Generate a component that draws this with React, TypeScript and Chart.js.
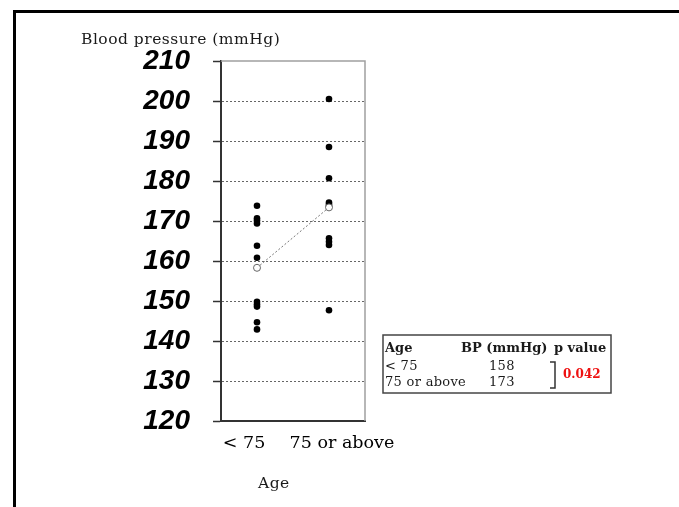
import React, { useEffect, useRef } from "react";
import { Chart, registerables } from "chart.js";

Chart.register(...registerables);

// ---- data ----
const ageGroups = ["< 75", "75 or above"];
const ageLabelPositions = [-0.18, 1.18];
const yMin = 120;
const yMax = 210;
const yStep = 10;
const bpUnder75 = [173.8, 170.7, 170.1, 169.4, 163.8, 160.8, 149.8, 149.2, 148.6, 144.7, 142.9];
const bp75OrAbove = [200.5, 188.5, 180.7, 174.6, 174.1, 173.6, 165.7, 164.8, 164, 147.7];
const meanBP = [158.3, 173.4];
const meanBPLabels = ["158", "173"];
const pValueText = "0.042";
const yTitle = "Blood pressure (mmHg)";
const xTitle = "Age";
const tableHeaders = ["Age", "BP (mmHg)", "p value"];

const SERIF = "'DejaVu Serif', serif";

const extrasPlugin = {
  id: "extras",
  beforeDatasetsDraw(chart: any) {
    const { ctx, chartArea: a } = chart;
    ctx.save();
    ctx.strokeStyle = "#a0a0a0";
    ctx.lineWidth = 1.5;
    ctx.beginPath();
    ctx.moveTo(a.left, a.top);
    ctx.lineTo(a.right, a.top);
    ctx.lineTo(a.right, a.bottom);
    ctx.stroke();
    ctx.restore();
  },
  afterDraw(chart: any) {
    const { ctx } = chart;
    ctx.save();
    ctx.fillStyle = "#1a1a1a";
    ctx.textBaseline = "alphabetic";
    ctx.textAlign = "left";

    // y title
    ctx.font = `15.5px ${SERIF}`;
    (ctx as any).letterSpacing = "0.5px";
    ctx.fillText(yTitle, 81, 44);
    // x title
    ctx.fillText(xTitle, 258, 488);

    // table box
    (ctx as any).letterSpacing = "0px";
    ctx.strokeStyle = "#444";
    ctx.lineWidth = 1.5;
    ctx.strokeRect(383, 335, 228, 58);

    ctx.font = `bold 13px ${SERIF}`;
    ctx.fillText(tableHeaders[0], 385, 352);
    ctx.fillText(tableHeaders[1], 461, 352);
    ctx.fillText(tableHeaders[2], 554, 352);

    ctx.font = `13px ${SERIF}`;
    (ctx as any).letterSpacing = "0.3px";
    ctx.fillText(ageGroups[0], 385, 370);
    ctx.fillText(meanBPLabels[0], 489, 370);
    ctx.fillText(ageGroups[1], 385, 386);
    ctx.fillText(meanBPLabels[1], 489, 386);

    // bracket
    ctx.strokeStyle = "#333";
    ctx.lineWidth = 1.5;
    ctx.beginPath();
    ctx.moveTo(550, 362);
    ctx.lineTo(555, 362);
    ctx.lineTo(555, 388);
    ctx.lineTo(550, 388);
    ctx.stroke();

    (ctx as any).letterSpacing = "0px";
    ctx.fillStyle = "#ee1111";
    ctx.font = `bold 12px ${SERIF}`;
    ctx.fillText(pValueText, 563, 378);
    ctx.restore();
  },
};

export default function App() {
  const ref = useRef<HTMLCanvasElement>(null);

  useEffect(() => {
    if (!ref.current) return;
    const chart = new Chart(ref.current, {
      type: "scatter",
      data: {
        datasets: [
          {
            label: "Mean",
            data: meanBP.map((v, i) => ({ x: i, y: v })),
            showLine: true,
            borderColor: "#777",
            borderWidth: 1,
            borderDash: [2, 2],
            pointRadius: 3.5,
            pointBackgroundColor: "#fff",
            pointBorderColor: "#666",
            pointBorderWidth: 1,
          },
          {
            label: ageGroups[0],
            data: bpUnder75.map((v) => ({ x: 0, y: v })),
            pointRadius: 3.3,
            pointBackgroundColor: "#000",
            pointBorderWidth: 0,
          },
          {
            label: ageGroups[1],
            data: bp75OrAbove.map((v) => ({ x: 1, y: v })),
            pointRadius: 3.3,
            pointBackgroundColor: "#000",
            pointBorderWidth: 0,
          },
        ],
      },
      options: {
        responsive: false,
        devicePixelRatio: 1,
        animation: false,
        layout: { padding: { left: 0, top: 61, right: 314, bottom: 0 } },
        plugins: { legend: { display: false }, tooltip: { enabled: false } },
        scales: {
          x: {
            type: "linear",
            min: -0.5,
            max: 1.5,
            afterBuildTicks: (s: any) => {
              s.ticks = ageLabelPositions.map((v) => ({ value: v }));
            },
            afterFit: (s: any) => {
              s.height = 86;
            },
            grid: { display: false, drawTicks: false, tickLength: 0 },
            border: { display: true, color: "#333", width: 2 },
            ticks: {
              autoSkip: false,
              maxRotation: 0,
              padding: 12,
              color: "#000",
              font: { family: "DejaVu Serif", size: 17.5 },
              callback: (_v: any, i: number) => ageGroups[i],
            },
          },
          y: {
            min: yMin,
            max: yMax,
            afterFit: (s: any) => {
              s.width = 221;
            },
            grid: {
              color: (c: any) =>
                c.tick && (c.tick.value === yMin || c.tick.value === yMax) ? "rgba(0,0,0,0)" : "#666",
              lineWidth: 1,
              drawTicks: true,
              tickLength: 8,
              tickColor: "#333",
              tickWidth: 1.5,
            },
            border: { display: true, color: "#333", width: 2, dash: [2, 2] },
            ticks: {
              stepSize: yStep,
              padding: 23,
              color: "#000",
              font: { family: "Liberation Sans", size: 28, weight: "bold", style: "italic" },
            },
          },
        },
      },
      plugins: [extrasPlugin],
    });
    return () => chart.destroy();
  }, []);

  return (
    <div
      style={{
        position: "fixed",
        left: 0,
        top: 0,
        width: 679,
        height: 507,
        background: "#fff",
        overflow: "hidden",
      }}
    >
      <div
        style={{
          position: "absolute",
          left: 13,
          top: 10,
          right: 0,
          bottom: 0,
          borderTop: "3px solid #000",
          borderLeft: "3px solid #000",
        }}
      />
      <canvas ref={ref} width={679} height={507} style={{ position: "absolute", left: 0, top: 0 }} />
    </div>
  );
}
